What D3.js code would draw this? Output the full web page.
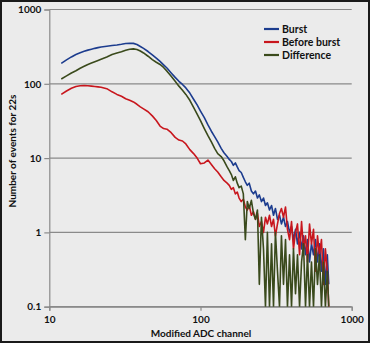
<!DOCTYPE html>
<html><head><meta charset="utf-8">
<script src="https://cdn.jsdelivr.net/npm/d3@7"></script>
<style>
html,body{margin:0;padding:0;background:#ebebeb;}
svg{display:block;}
text{font-family:Lato,"Open Sans",sans-serif;font-weight:bold;fill:#111;}
</style></head>
<body>
<svg id="c" width="370" height="343"></svg>
<script>
const channels = [12,13,14,15,16,17,18,19,20,21,22,24,26,28,30,32,34,36,38,40,42,45,48,51,54,57,60,64,68,72,76,80,85,90,95,100,106,112,118,124,130,137,143,
150,155,160,165,170,175,180,186,192,198,204,210,217,224,231,238,245,253,261,269,277,286,295,304,313,323,333,343,354,365,376,388,400,412,425,438,452,466,480,495,510,526,542,559,576,594,612,631,650,670,690,705];

const burst = [188,210,230,248,262,274,284,292,300,307,313,320,327,333,340,348,352,350,338,318,300,272,245,222,200,180,163,140,122,108,98,88,75,62,52,43,35,28,23,19.5,16.5,13.5,11.8,
10.5,9.6,9.0,8.0,8.6,7.6,6.8,6.4,5.5,4.8,4.3,4.6,3.6,3.3,3.6,2.9,3.2,2.6,2.9,2.3,2.5,2.0,2.3,1.7,2.1,1.5,1.7,1.3,1.6,1.2,1.4,1.0,1.2,0.8,1.1,0.7,1.0,0.6,0.9,0.5,0.8,0.4,0.7,0.5,0.8,0.4,0.7,0.3,0.6,0.2,0.5,0.2];

const beforeBurst = [72,80,87,92,94,95,94,93,92,91,90,86,78,72,68,63,60,57,53,49,46,42,37,32,27,25,24.5,22,19,17.5,17,15.5,13,11.5,10,8.4,8.6,9.4,8.2,7.2,6.5,5.6,5.0,
4.6,4.3,3.8,4.0,3.3,3.5,2.9,2.6,2.8,2.2,2.0,2.3,1.7,1.9,1.5,1.8,1.2,1.4,1.0,1.6,1.3,1.7,1.2,1.5,0.9,1.3,1.8,2.1,1.6,2.2,1.1,0.8,1.4,0.6,1.0,1.3,0.5,1.4,0.6,0.9,0.4,1.3,0.7,1.1,0.3,0.9,0.5,0.8,0.2,0.6,0.3,0.1];

const difference = [116,128,140,150,162,172,182,190,198,206,214,230,248,260,270,282,292,295,290,276,260,235,212,195,182,166,148,126,108,93,82,72,60,48,39,32,25,20,16.5,13.5,11.5,10.5,9.2,
7.6,6.8,6.0,5.0,5.6,4.6,4.0,4.2,3.3,0.8,2.6,2.1,2.7,1.8,1.5,2.0,0.2,1.6,0.6,0.1,1.0,0.1,0.7,0.1,1.0,0.3,0.1,0.9,0.2,0.8,0.1,0.5,0.1,0.6,0.15,0.5,0.1,0.4,0.7,0.1,0.5,0.1,0.4,0.1,0.6,0.2,0.5,0.1,0.4,0.1,0.3,0.1];

const seriesNames = ["Burst","Before burst","Difference"];
const seriesColors = ["#1c3c8e","#c8161d","#3a4a1c"];
const seriesValues = [burst, beforeBurst, difference];
const yTicks = [0.1,1,10,100,1000];
const xTicks = [10,100,1000];

const svg = d3.select("#c");
const L = 49.3, R = 351.7, T = 9.5, B = 306.7;
const x = d3.scaleLog().domain([10,1000]).range([L,R]);
const y = d3.scaleLog().domain([0.1,1000]).range([B,T]);

svg.append("rect").attr("x",1).attr("y",1).attr("width",368).attr("height",341)
  .attr("fill","#ebebeb").attr("stroke","#1a1a1a").attr("stroke-width",2);

// gridlines
svg.append("g").selectAll("line").data(yTicks).join("line")
  .attr("x1",L).attr("x2",R).attr("y1",d=>y(d)).attr("y2",d=>y(d))
  .attr("stroke","#8a8a8a").attr("stroke-width",1.2);

// y axis
const yAx = svg.append("g").attr("transform",`translate(${L},0)`)
  .call(d3.axisLeft(y).tickValues(yTicks).tickFormat(d=>String(d)).tickSize(5).tickPadding(3));
yAx.select(".domain").attr("stroke","#8a8a8a").attr("stroke-width",1.2);
yAx.selectAll(".tick line").attr("stroke","#8a8a8a").attr("stroke-width",1.2);
yAx.selectAll("text").attr("font-family","Lato").attr("font-weight","bold").attr("font-size",10).attr("fill","#111");

// x axis
const xAx = svg.append("g").attr("transform",`translate(0,${B})`)
  .call(d3.axisBottom(x).tickValues(xTicks).tickFormat(d=>String(d)).tickSize(4).tickPadding(5));
xAx.select(".domain").attr("stroke","#8a8a8a").attr("stroke-width",1.2);
xAx.selectAll(".tick line").attr("stroke","#8a8a8a").attr("stroke-width",1.2);
xAx.selectAll("text").attr("font-family","Lato").attr("font-weight","bold").attr("font-size",10).attr("fill","#111");

// clip
svg.append("clipPath").attr("id","pc").append("rect")
  .attr("x",L).attr("y",T-2).attr("width",R-L).attr("height",B-T+2);

const line = d3.line().x(d=>x(d[0])).y(d=>y(Math.max(0.1,d[1])));
const g = svg.append("g").attr("clip-path","url(#pc)");
seriesValues.forEach((vals,i)=>{
  g.append("path").datum(channels.map((c,j)=>[c,vals[j]]))
    .attr("d",line).attr("fill","none").attr("stroke",seriesColors[i])
    .attr("stroke-width",1.6).attr("stroke-linejoin","round");
});

// axis titles
svg.append("text").attr("x",201).attr("y",337).attr("text-anchor","middle")
  .attr("font-size",10).text("Modified ADC channel");
svg.append("text").attr("transform","translate(16,151) rotate(-90)").attr("text-anchor","middle")
  .attr("font-size",10).text("Number of events for 22s");

// legend
const lg = svg.append("g");
seriesNames.forEach((n,i)=>{
  const yy = 29 + i*13;
  lg.append("line").attr("x1",264).attr("x2",279).attr("y1",yy).attr("y2",yy)
    .attr("stroke",seriesColors[i]).attr("stroke-width",2.2);
  lg.append("text").attr("x",282).attr("y",yy+3.6).attr("font-size",10.5).text(n);
});
</script>
</body></html>
